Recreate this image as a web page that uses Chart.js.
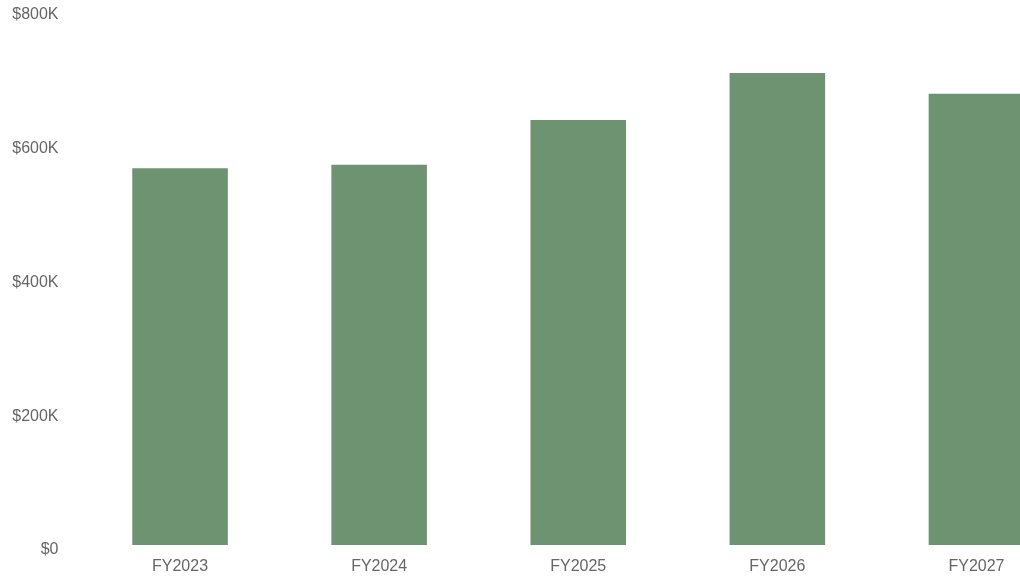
<!DOCTYPE html>
<html>
<head>
<meta charset="utf-8">
<script src="https://cdn.jsdelivr.net/npm/chart.js@4"></script>
<style>
  html, body { margin: 0; padding: 0; background: #fff; overflow: hidden; }
  #wrap { position: relative; width: 1076px; height: 582px; }
</style>
</head>
<body>
<div id="wrap"><canvas id="c"></canvas></div>
<script>
const categories = ["FY2023", "FY2024", "FY2025", "FY2026", "FY2027"];
const revenue = [563000, 568000, 635000, 705000, 674000];
const yMin = 0;
const yMax = 800000;
const yStep = 200000;

function fmtK(v) {
  return v === 0 ? "$0" : "$" + (v / 1000) + "K";
}

new Chart(document.getElementById("c"), {
  type: "bar",
  data: {
    labels: categories,
    datasets: [{
      data: revenue,
      backgroundColor: "#6e9370",
      borderWidth: 0,
      categoryPercentage: 0.8,
      barPercentage: 0.6
    }]
  },
  options: {
    responsive: true,
    maintainAspectRatio: false,
    animation: false,
    layout: { padding: { left: 10, right: 0, top: 9.5, bottom: 0 } },
    plugins: { legend: { display: false }, tooltip: { enabled: false } },
    scales: {
      x: {
        grid: { display: false, drawTicks: false },
        border: { display: false },
        afterFit: (s) => { s.height = 37; s.paddingLeft = 0; s.paddingRight = 0; },
        ticks: {
          color: "#666",
          padding: 12,
          maxRotation: 0,
          font: { family: "'Liberation Sans', Arial, sans-serif", size: 16 }
        }
      },
      y: {
        min: yMin,
        max: yMax,
        grid: { display: false, drawTicks: false },
        border: { display: false },
        afterFit: (s) => { s.width = 70.5; s.paddingTop = 0; s.paddingBottom = 0; },
        ticks: {
          stepSize: yStep,
          color: "#666",
          padding: 22,
          labelOffset: 5,
          font: { family: "'Liberation Sans', Arial, sans-serif", size: 16 },
          callback: (v) => fmtK(v)
        }
      }
    }
  }
});
</script>
</body>
</html>
